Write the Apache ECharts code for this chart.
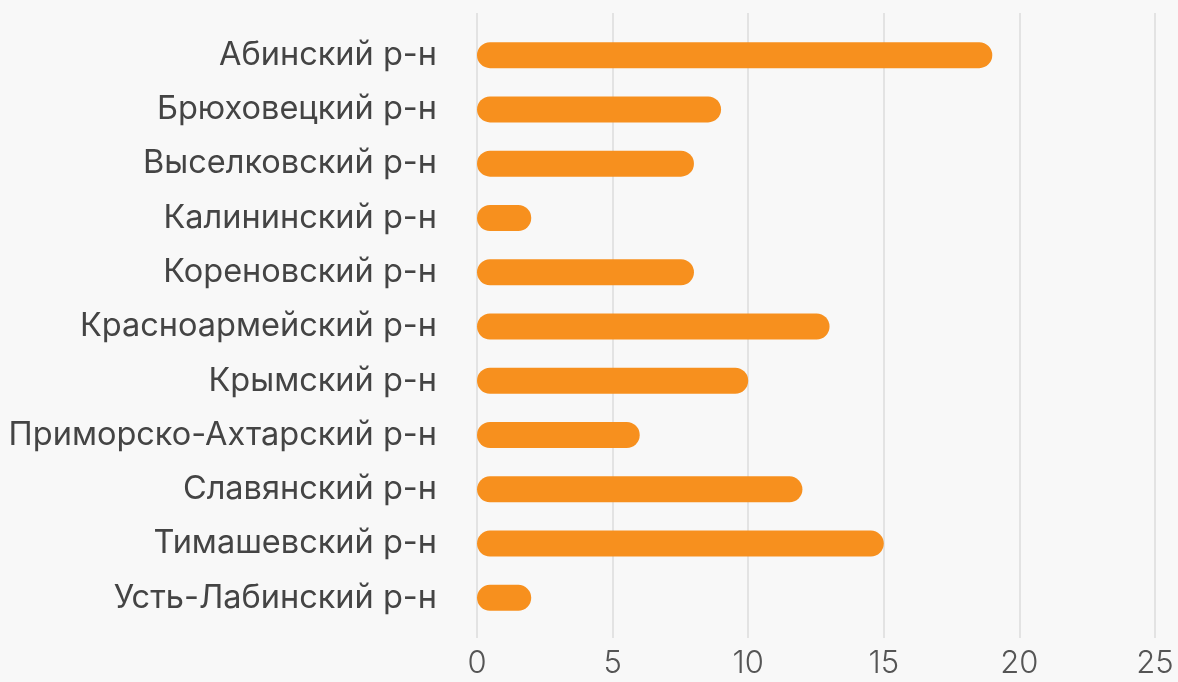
<!DOCTYPE html>
<html><head><meta charset="utf-8">
<script src="https://cdn.jsdelivr.net/npm/echarts@6/dist/echarts.min.js"></script>
<style>html,body{margin:0;padding:0;background:#f8f8f8;}#c{width:1178px;height:682px;}</style>
</head><body><div id="c"></div>
<script>
const categories = ["Абинский р-н","Брюховецкий р-н","Выселковский р-н","Калининский р-н","Кореновский р-н","Красноармейский р-н","Крымский р-н","Приморско-Ахтарский р-н","Славянский р-н","Тимашевский р-н","Усть-Лабинский р-н"];
const values = [19, 9, 8, 2, 8, 13, 10, 6, 12, 15, 2];
const xTicks = [0, 5, 10, 15, 20, 25];

const chart = echarts.init(document.getElementById('c'), null, {renderer:'canvas'});
const font = 'Inter, Roboto, sans-serif';
chart.setOption({
  backgroundColor: '#f8f8f8',
  animation: false,
  grid: [
    {left: 477, right: 23, top: 13, bottom: 44},
    {left: 477, right: 23, top: 28, bottom: 57}
  ],
  xAxis: [
    {gridIndex: 0, type: 'value', min: xTicks[0], max: xTicks[xTicks.length-1], interval: 5,
     axisLine: {show: false}, axisTick: {show: false},
     axisLabel: {color: '#555', fontSize: 31, fontFamily: font, fontWeight: 300, margin: 10},
     splitLine: {lineStyle: {color: '#dcdcdc', width: 1.5}}},
    {gridIndex: 1, type: 'value', min: xTicks[0], max: xTicks[xTicks.length-1], interval: 5, show: false}
  ],
  yAxis: [
    {gridIndex: 0, type: 'category', data: categories, inverse: true, show: false},
    {gridIndex: 1, type: 'category', data: categories, inverse: true,
     axisLine: {show: false}, axisTick: {show: false},
     axisLabel: {color: '#444', fontSize: 32.5, fontFamily: font, margin: 40}}
  ],
  series: [{
    type: 'bar', xAxisIndex: 1, yAxisIndex: 1, data: values,
    barWidth: 26,
    itemStyle: {color: '#f7901e', borderRadius: 13}
  }]
});
</script></body></html>
